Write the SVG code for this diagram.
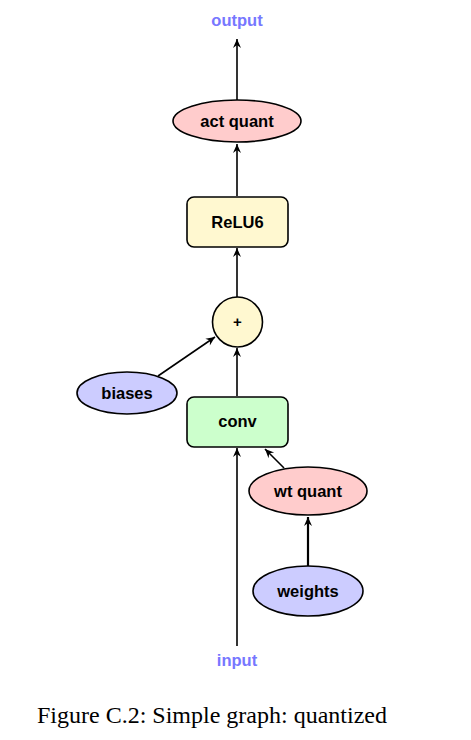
<svg xmlns="http://www.w3.org/2000/svg" width="471" height="740" viewBox="0 0 471 740">
<style>
.lbl{font-family:"Liberation Sans",Arial,sans-serif;font-weight:bold;font-size:16.5px;fill:#000;text-anchor:middle}
.io{font-family:"Liberation Sans",Arial,sans-serif;font-weight:bold;font-size:16.5px;fill:#7777ff;text-anchor:middle}
.edge{stroke:#000;stroke-width:1.6;fill:none;marker-end:url(#ah)}
.sh{stroke:#000;stroke-width:1.6}
.cap{font-family:"Liberation Serif","Times New Roman",serif;font-size:24px;fill:#000}
</style>
<defs>
<marker id="ah" viewBox="-10 -5 12 10" refX="0" refY="0" markerWidth="12" markerHeight="10" markerUnits="userSpaceOnUse" orient="auto">
<path d="M0,0 L-9,-4 L-6,0 L-9,4 z" fill="#000"/>
</marker>
</defs>
<g id="connectors">
<line class="edge" x1="237" y1="100" x2="237" y2="39"/>
<line class="edge" x1="237" y1="196" x2="237" y2="144"/>
<line class="edge" x1="237" y1="297" x2="237" y2="248"/>
<line class="edge" x1="237" y1="396" x2="237" y2="348"/>
<line class="edge" x1="158" y1="376" x2="215" y2="337"/>
<line class="edge" x1="237" y1="646" x2="237" y2="448"/>
<line class="edge" x1="284" y1="468" x2="265" y2="449"/>
<line class="edge" x1="308" y1="567" x2="308" y2="517" style="stroke-width:2.2"/>
</g>
<g id="output"><text class="io" x="237" y="26">output</text></g>
<g id="act_quant"><ellipse class="sh" cx="237" cy="121" rx="64" ry="21" fill="#ffcccc"/><text class="lbl" x="237" y="127">act quant</text></g>
<g id="relu6"><rect class="sh" x="187" y="197" width="101" height="50" rx="7" fill="#fff8d0"/><text class="lbl" x="237.5" y="228">ReLU6</text></g>
<g id="plus"><circle class="sh" cx="237.5" cy="322" r="25" fill="#fff8d0"/><text class="lbl" x="237.5" y="327" style="font-size:15px">+</text></g>
<g id="biases"><ellipse class="sh" cx="127" cy="393" rx="50" ry="21" fill="#ccccff"/><text class="lbl" x="127" y="399">biases</text></g>
<g id="conv"><rect class="sh" x="187" y="397" width="101" height="50" rx="7" fill="#ccffcc"/><text class="lbl" x="237.5" y="427">conv</text></g>
<g id="wt_quant"><ellipse class="sh" cx="308" cy="491" rx="59" ry="24" fill="#ffcccc"/><text class="lbl" x="308" y="497">wt quant</text></g>
<g id="weights"><ellipse class="sh" cx="308" cy="591" rx="55" ry="25" fill="#ccccff"/><text class="lbl" x="308" y="597">weights</text></g>
<g id="input"><text class="io" x="237" y="666">input</text></g>
<text class="cap" x="37" y="723">Figure C.2: Simple graph: quantized</text>
</svg>
